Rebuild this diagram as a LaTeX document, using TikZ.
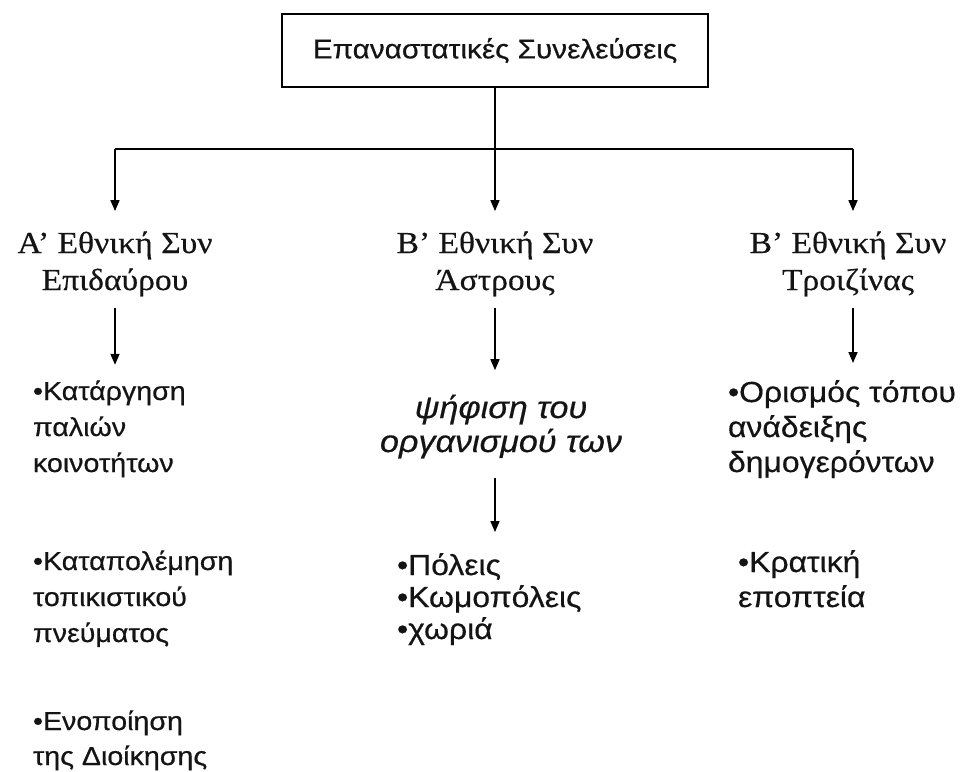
\documentclass[tikz,border=0pt]{standalone}
\usepackage{fontspec}
\setmainfont[FakeStretch=1.1, FakeBold=0.4]{Liberation Serif}
\newfontfamily\gsans[FakeStretch=1.1, FakeBold=0.5]{Liberation Sans}
\usetikzlibrary{arrows.meta}

% multi-line text block whose reference point is the first baseline
\newcommand{\linesl}[1]{\begin{tabular}[t]{@{}l@{}}#1\end{tabular}}
\newcommand{\linesc}[1]{\begin{tabular}[t]{@{}c@{}}#1\end{tabular}}

\tikzset{
  every node/.style={inner sep=0pt, outer sep=0pt, text=black!92},
  titlebox/.style={draw=black, line width=1.6pt, minimum width=426pt, minimum height=73pt,
    font=\gsans\fontsize{27}{32}\selectfont},
  assembly/.style={anchor=base, font=\fontsize{30.5}{37}\selectfont},
  item/.style={anchor=base west, font=\gsans\fontsize{26}{36}\selectfont},
  wideitem/.style={anchor=base west, font=\gsans\fontsize{29}{35}\selectfont},
  note/.style={anchor=base, font=\gsans\itshape\fontsize{31}{34}\selectfont},
  link/.style={line width=1.8pt},
  arr/.style={line width=1.6pt, -{Triangle[width=9pt,length=11pt]}},
}

\begin{document}
\begin{tikzpicture}[x=1pt, y=-1pt]
  \useasboundingbox[fill=white] (0,0) rectangle (961,771);

  % root
  \node[titlebox] (root) at (495,50.5) {Επαναστατικές Συνελεύσεις};

  % distribution bar
  \coordinate (busL) at (115,149);
  \coordinate (busM) at (495,149);
  \coordinate (busR) at (853,149);

  % the three assemblies
  \node[assembly] (epi) at (115,253) {\linesc{Α’ Εθνική Συν\\Επιδαύρου}};
  \node[assembly] (ast) at (495,253) {\linesc{Β’ Εθνική Συν\\Άστρους}};
  \node[assembly] (tro) at (848,253) {\linesc{Β’ Εθνική Συν\\Τροιζίνας}};

  % Epidavros decisions
  \node[item] (e1) at (33,400) {\linesl{•Κατάργηση\\παλιών\\κοινοτήτων}};
  \node[item] (e2) at (33,570) {\linesl{•Καταπολέμηση\\τοπικιστικού\\πνεύματος}};
  \node[item, font=\gsans\fontsize{26}{35}\selectfont] (e3) at (33,730)
    {\linesl{•Ενοποίηση\\της Διοίκησης}};

  % Astros decisions
  \node[note] (org) at (501,418) {\linesc{ψήφιση του\\οργανισμού των}};
  \node[wideitem, font=\gsans\fontsize{29}{32}\selectfont] (units) at (397,575)
    {\linesl{•Πόλεις\\•Κωμοπόλεις\\•χωριά}};

  % Troizina decisions
  \node[wideitem] (t1) at (728,402) {\linesl{•Ορισμός τόπου\\ανάδειξης\\δημογερόντων}};
  \node[wideitem] (t2) at (738,572) {\linesl{•Κρατική\\εποπτεία}};

  % connectors
  \draw[link] (root.south) -- (busM);
  \draw[link] (busL) -- (busR);
  \draw[arr, shorten >=16pt] (busL) -- (busL |- epi.north);
  \draw[arr, shorten >=16pt] (busM) -- (busM |- ast.north);
  \draw[arr, shorten >=16pt] (busR) -- (busR |- tro.north);

  \draw[arr, shorten <=7pt, shorten >=10pt] (epi.south) -- (epi.south |- e1.north);
  \draw[arr, shorten <=7pt, shorten >=24pt] (ast.south) -- (ast.south |- org.north);
  \draw[arr, shorten <=16pt, shorten >=20.5pt] (ast.south |- org.south) -- (ast.south |- units.north);
  \draw[arr, shorten <=7pt, shorten >=14.5pt] (busR |- tro.south) -- (busR |- t1.north);
\end{tikzpicture}
\end{document}
